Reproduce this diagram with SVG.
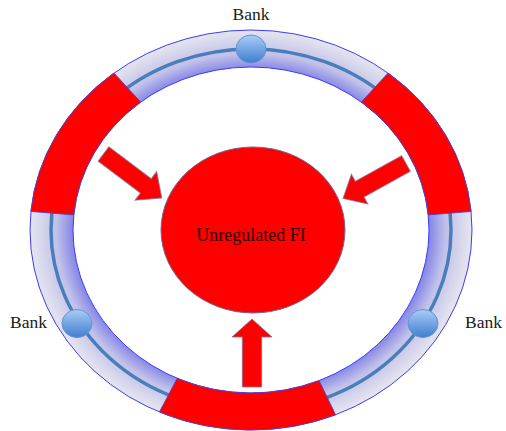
<svg xmlns="http://www.w3.org/2000/svg" width="506" height="431" viewBox="0 0 506 431">
  <defs>
    <radialGradient id="ringGrad" cx="0.5" cy="0.5" r="0.5">
      <stop offset="0.80" stop-color="#8080e6"/>
      <stop offset="0.88" stop-color="#c0c0ea"/>
      <stop offset="1" stop-color="#e6e6ee"/>
    </radialGradient>
    <linearGradient id="bankGrad" x1="0" y1="0" x2="0" y2="1">
      <stop offset="0" stop-color="#a9ccf8"/>
      <stop offset="1" stop-color="#3f7ed0"/>
    </linearGradient>
    <style>
      .seg { fill: #ff0000; stroke: #4444dd; stroke-width: 0.8; }
      .edge { fill: none; stroke: #3b3bff; stroke-width: 1; }
      .bank { fill: url(#bankGrad); stroke: #6a92cc; stroke-width: 1; }
      .arrow { fill: #ff0000; stroke: #7a7aa8; stroke-width: 1; stroke-opacity: 0.8; }
      .lbl { font-family: "Liberation Serif", "Times New Roman", serif; font-size: 17.5px; fill: #1a1a1a; text-anchor: middle; }
    </style>
  </defs>

  <g id="ring">
    <path d="M 30,230 A 221 200 0 1 0 472,230 A 221 200 0 1 0 30,230 Z M 73,230 A 178 163 0 1 0 429,230 A 178 163 0 1 0 73,230 Z" fill="url(#ringGrad)" fill-rule="evenodd"/>
    <ellipse cx="251" cy="230" rx="200" ry="181" fill="none" stroke="#4a7ebb" stroke-width="3.5"/>
    <ellipse class="edge" cx="251" cy="230" rx="221" ry="200"/>
    <ellipse class="edge" cx="251" cy="230" rx="178" ry="163"/>
  </g>

  <g id="segments">
    <path id="seg-left" class="seg" d="M 114.0,73.0 A 221 200 0 0 0 30.9,211.5 L 73.8,214.9 A 178 163 0 0 1 140.7,102.1 Z"/>
    <path id="seg-right" class="seg" d="M 388.0,73.0 A 221 200 0 0 1 471.1,211.5 L 428.2,214.9 A 178 163 0 0 0 361.3,102.1 Z"/>
    <path id="seg-bottom" class="seg" d="M 335.6,414.8 A 221 200 0 0 1 159.4,412.0 L 177.2,378.3 A 178 163 0 0 0 319.1,380.6 Z"/>
  </g>

  <g id="bank-top">
    <ellipse class="bank" cx="251" cy="49" rx="15" ry="14"/>
    <text class="lbl" x="251" y="19.5">Bank</text>
  </g>
  <g id="bank-left">
    <ellipse class="bank" cx="77" cy="323.5" rx="15" ry="14"/>
    <text class="lbl" x="28.5" y="327.5">Bank</text>
  </g>
  <g id="bank-right">
    <ellipse class="bank" cx="423" cy="323.5" rx="15" ry="14"/>
    <text class="lbl" x="483.5" y="327.5">Bank</text>
  </g>

  <g id="unregulated-fi">
    <ellipse cx="253" cy="230" rx="92" ry="83" fill="#ff0000" stroke="#6d6d9a" stroke-width="1"/>
    <text class="lbl" x="251" y="240.5" style="fill:#2a0000;font-size:18px">Unregulated FI</text>
  </g>

  <g id="connectors">
    <polygon class="arrow" points="0,-9 53,-9 53,-18 73,0 53,18 53,9 0,9" transform="translate(103.5,154) rotate(37)"/>
    <polygon class="arrow" points="0,-9 53,-9 53,-17 72,0 53,17 53,9 0,9" transform="translate(406,163.5) rotate(151)"/>
    <polygon class="arrow" points="0,-9.7 50,-9.7 50,-20 68,0 50,20 50,9.7 0,9.7" transform="translate(252,387) rotate(-90)"/>
  </g>
</svg>
